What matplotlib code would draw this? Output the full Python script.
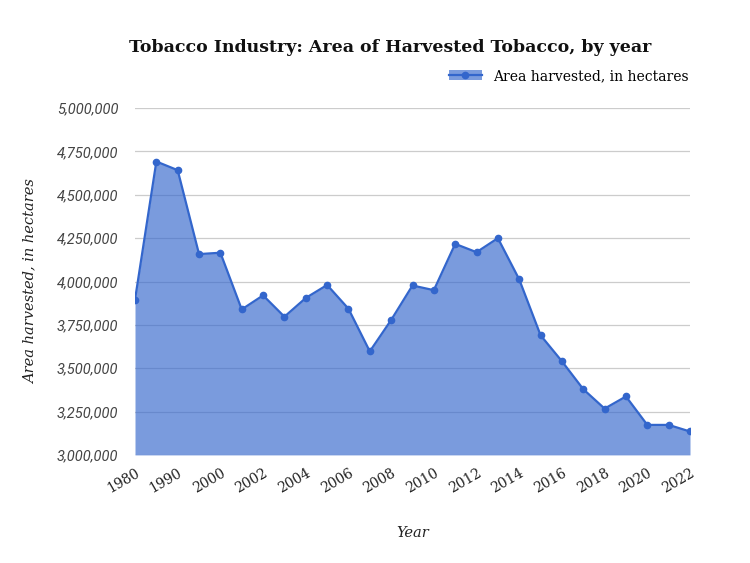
import matplotlib
import matplotlib.pyplot as plt
from matplotlib.lines import Line2D
from matplotlib.patches import Patch
from matplotlib.ticker import FuncFormatter

matplotlib.use("Agg")

years = ["1980", "1985", "1990", "1995", "2000"] + [str(y) for y in range(2001, 2023)]
area = [
    3895000, 4692000, 4642000, 4158000, 4166000, 3839000, 3920000, 3797000,
    3905000, 3980000, 3843000, 3597000, 3778000, 3977000, 3950000, 4217000,
    4169000, 4250000, 4012000, 3690000, 3540000, 3379000, 3267000, 3337000,
    3173000, 3173000, 3135000,
]
shown_labels = ["1980", "1990", "2000"] + [str(y) for y in range(2002, 2023, 2)]

LINE = "#3366cc"
SERIF = "DejaVu Serif"

fig = plt.figure(figsize=(7.5, 5.63), dpi=100)
ax = fig.add_axes([0.18, 0.192, 0.74, 0.616])

x = list(range(len(years)))
ax.fill_between(x, area, 3000000, color=LINE, alpha=0.65, linewidth=0)
ax.plot(x, area, color=LINE, linewidth=1.6, marker="o", markersize=4.5)

ax.set_xlim(0, len(years) - 1)
ax.set_ylim(3000000, 5000000)
ax.set_yticks(range(3000000, 5000001, 250000))
ax.yaxis.set_major_formatter(FuncFormatter(lambda v, p: f"{int(v):,}"))
ax.grid(axis="y", color="#cccccc", linewidth=0.9)
ax.set_axisbelow(True)
for s in ax.spines.values():
    s.set_visible(False)

tick_pos = [years.index(l) for l in shown_labels]
ax.set_xticks(tick_pos)
ax.set_xticklabels(shown_labels, rotation=30, ha="right", rotation_mode="anchor",
                   fontsize=10, family=SERIF, color="#222222")
ax.tick_params(axis="both", length=0)
ax.tick_params(axis="x", pad=8)
ax.tick_params(axis="y", pad=12)
for t in ax.get_yticklabels():
    t.set_fontstyle("italic")
    t.set_fontsize(10.5)
    t.set_color("#444444")
    t.set_family("Roboto")

ax.set_xlabel("Year", family=SERIF, style="italic", fontsize=10.5, color="#222222", labelpad=22)
ax.set_ylabel("Area harvested, in hectares", family=SERIF, style="italic", fontsize=10.5,
              color="#222222", labelpad=14)

fig.text(0.52, 0.915, "Tobacco Industry: Area of Harvested Tobacco, by year",
         ha="center", va="center", family=SERIF, weight="heavy", fontsize=12.5, color="#111111")

handle = (Patch(facecolor=LINE, alpha=0.65, edgecolor="none"),
          Line2D([], [], color=LINE, linewidth=1.6, marker="o", markersize=4.5))
fig.legend([handle], ["Area harvested, in hectares"], loc="center right",
           bbox_to_anchor=(0.935, 0.865), frameon=False, handlelength=2.4,
           prop={"family": SERIF, "size": 10})

fig.savefig("out.png", dpi=100)
plt.close(fig)
